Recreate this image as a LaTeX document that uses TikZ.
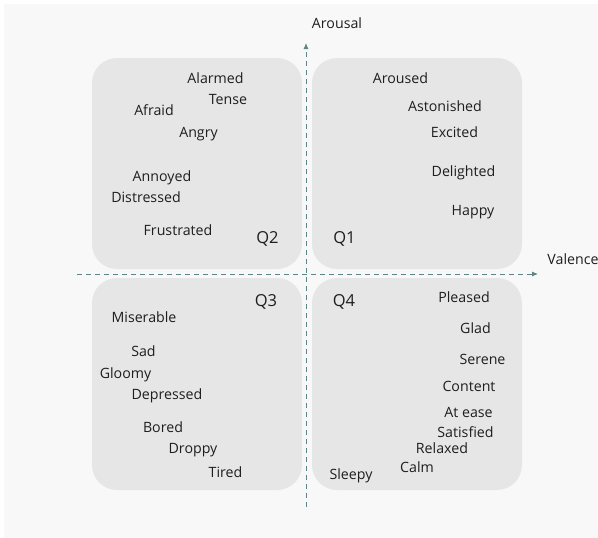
\documentclass[tikz,border=0pt]{standalone}
\usepackage{fontspec}
\setmainfont{Open Sans}
\usetikzlibrary{arrows.meta}
\usetikzlibrary{positioning}

\definecolor{boxgray}{HTML}{E6E6E6}
\definecolor{axisteal}{HTML}{5E8585}
\definecolor{wordgray}{HTML}{1E1E1E}
\definecolor{pagegray}{HTML}{F8F8F8}

\begin{document}
\begin{tikzpicture}[x=1pt,y=-1pt,
        quad/.style={fill=boxgray,rounded corners=25pt},
        word/.style={text=wordgray,font=\fontsize{14.2}{16}\selectfont,inner sep=0pt,anchor=base},
        qname/.style={text=wordgray,font=\fontsize{16.5}{18}\selectfont,inner sep=0pt,anchor=base},
        axis/.style={draw=axisteal,dash pattern=on 5pt off 4pt,line width=0.9pt,-{Latex[length=6pt,width=5pt]}}]
        \useasboundingbox (0,0) rectangle (598,538);
        \fill[pagegray] (4,4) rectangle (598,538);
        % quadrants
        \fill[quad] (92,58) rectangle (302,269);
        \fill[quad] (312,58) rectangle (522,269);
        \fill[quad] (92,278) rectangle (302,490);
        \fill[quad] (312,278) rectangle (522,490);
        % axes
        \coordinate (vlow) at (306,507);
        \coordinate (vtop) at (306,43);
        \coordinate (hleft) at (77,274);
        \coordinate (hright) at (538,274);
        \draw[axis] (vlow) -- (vtop);
        \draw[axis] (hleft) -- (hright);
        \node [word] (arousal) at (337,28) {Arousal};
        \node [word] (valence) at (573,264) {Valence};
        % Q2
        \node [word] (alarmed) at (215.5,83) {Alarmed};
        \node [word] (tense) at (228,104) {Tense};
        \node [word] (afraid) at (154,115) {Afraid};
        \node [word] (angry) at (198.5,137) {Angry};
        \node [word] (annoyed) at (162,181) {Annoyed};
        \node [word] (distressed) at (146,202) {Distressed};
        \node [word] (frustrated) at (178,235) {Frustrated};
        \node [qname] (q2) at (267.5,243) {Q2};
        % Q1
        \node [word] (aroused) at (400.5,83) {Aroused};
        \node [word] (astonished) at (445,111) {Astonished};
        \node [word] (excited) at (454.5,137) {Excited};
        \node [word] (delighted) at (463.5,176) {Delighted};
        \node [word] (happy) at (473,215) {Happy};
        \node [qname] (q1) at (344.5,243) {Q1};
        % Q3
        \node [qname] (q3) at (266,306.5) {Q3};
        \node [word] (miserable) at (144,322) {Miserable};
        \node [word] (sad) at (143.5,356) {Sad};
        \node [word] (gloomy) at (125.5,378) {Gloomy};
        \node [word] (depressed) at (167,399) {Depressed};
        \node [word] (bored) at (163,432) {Bored};
        \node [word] (droppy) at (193,453) {Droppy};
        \node [word] (tired) at (225.5,477) {Tired};
        % Q4
        \node [qname] (q4) at (344,306.5) {Q4};
        \node [word] (pleased) at (464,302) {Pleased};
        \node [word] (glad) at (475.5,333) {Glad};
        \node [word] (serene) at (482.5,364) {Serene};
        \node [word] (content) at (469,391) {Content};
        \node [word] (atease) at (468.5,417) {At ease};
        \node [word] (satisfied) at (465.5,437) {Satisfied};
        \node [word] (relaxed) at (442,453) {Relaxed};
        \node [word] (calm) at (417,472) {Calm};
        \node [word] (sleepy) at (351,479) {Sleepy};
\end{tikzpicture}
\end{document}
